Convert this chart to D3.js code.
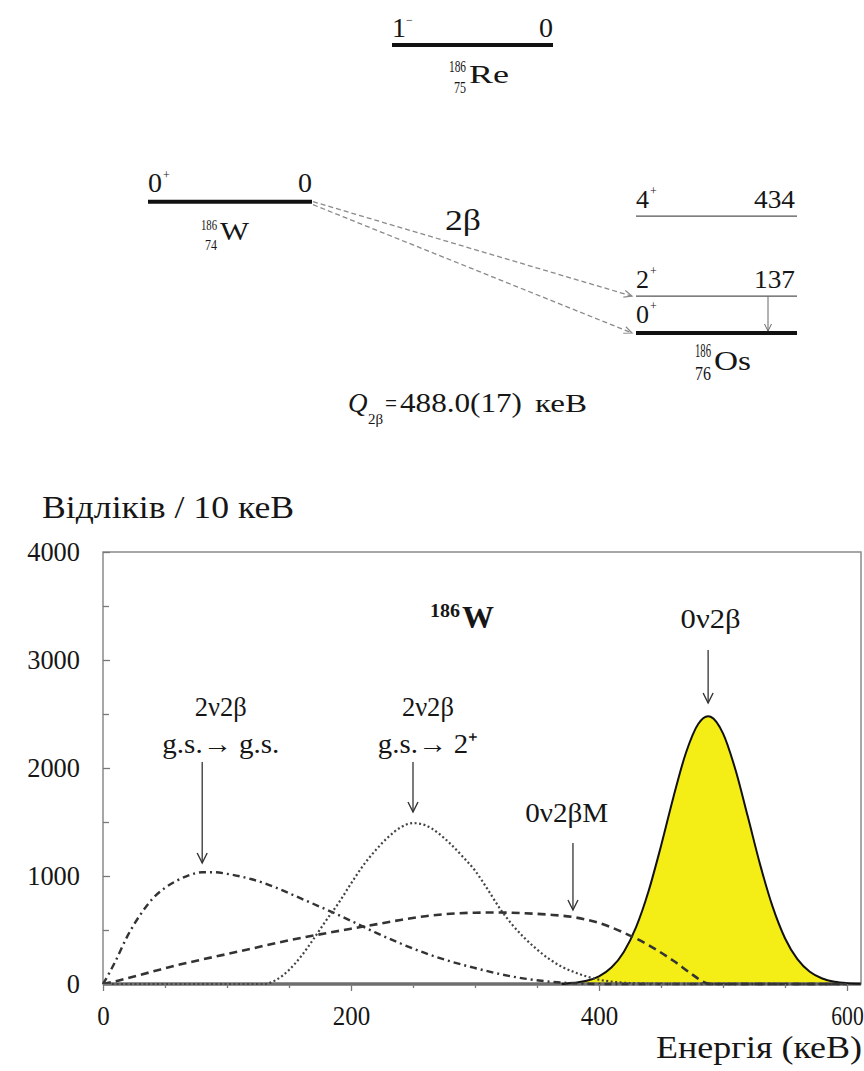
<!DOCTYPE html>
<html><head><meta charset="utf-8">
<script src="https://cdn.jsdelivr.net/npm/d3@7"></script>
<style>
body{margin:0;background:#fff}
text{font-family:"Liberation Serif","Times New Roman",serif;fill:#161616}
</style>
</head><body>
<svg id="c" width="864" height="1071"></svg>
<script>
// ---------------- data ----------------
const xTickValues = [0, 200, 400, 600];
const yTickValues = [0, 1000, 2000, 3000, 4000];
const xMinorTicks = [50, 100, 150, 250, 300, 350, 450, 500, 550];
const yMinorTicks = [500, 1500, 2500, 3500];

// 2v2b g.s. -> g.s. (dash-dot)
const gsgsEnergy = [0, 5, 10, 20, 30, 40, 50, 60, 70, 80, 90, 100, 120, 140, 160, 180, 200, 220, 240, 260, 280, 300, 320, 340, 360, 380, 400, 600];
const gsgsCounts = [0, 100, 210, 450, 640, 790, 890, 960, 1010, 1035, 1035, 1020, 970, 890, 790, 690, 585, 475, 375, 285, 210, 148, 92, 50, 22, 7, 0, 0];

// 2v2b g.s. -> 2+ (dotted)
const gs2Energy = [0, 130, 140, 150, 160, 170, 180, 190, 200, 210, 220, 230, 240, 250, 260, 270, 280, 290, 300, 310, 320, 330, 340, 350, 360, 370, 380, 390, 400, 410, 420, 440, 460, 600];
const gs2Counts = [0, 0, 40, 130, 260, 420, 590, 750, 930, 1100, 1240, 1360, 1450, 1490, 1470, 1400, 1300, 1180, 1050, 880, 700, 550, 425, 320, 230, 160, 110, 70, 40, 22, 12, 4, 1, 0];

// 0v2bM (dashed)
const majEnergy = [0, 10, 20, 40, 60, 80, 100, 120, 140, 160, 180, 200, 220, 240, 260, 280, 300, 320, 340, 360, 380, 400, 420, 440, 460, 475, 485, 490, 600];
const majCounts = [0, 25, 55, 115, 175, 227, 277, 328, 380, 428, 470, 512, 552, 593, 628, 650, 660, 662, 655, 642, 618, 565, 475, 360, 215, 90, 15, 0, 0];

// 0v2b peak (yellow)
const peakEnergy = [370, 380, 390, 400, 410, 420, 430, 440, 450, 460, 470, 480, 488, 490, 500, 510, 520, 530, 540, 550, 560, 570, 580, 590, 600, 611];
const peakCounts = [0, 12, 30, 71, 152, 297, 529, 861, 1278, 1730, 2137, 2408, 2480, 2475, 2321, 1986, 1550, 1103, 716, 424, 230, 113, 51, 21, 8, 3];

// annotations in the spectrum
const annLabels = [["2ν2β", "g.s.→ g.s."], ["2ν2β", "g.s.→ 2⁺"], ["0ν2βM"], ["0ν2β"]];
const annArrowX = [80, 250, 379, 488];
const annArrowFrom = [2055, 2055, 1305, 3093];
const annArrowTo = [1120, 1593, 685, 2602];

// level scheme
const nuclideMass = [186, 186, 186];
const nuclideZ = [75, 74, 76];
const nuclideSym = ["Re", "W", "Os"];
const nuclideOffset = [1070, 488, 0];      // keV above 186Os g.s.
const osLevelSpin = ["0", "2", "4"];
const osLevelEnergy = [0, 137, 434];
const qValueText = "488.0(17)";

// ---------------- drawing ----------------
const svg = d3.select("#c");
const F = "Liberation Serif";

function txt(g, x, y, s, size, o = {}) {
  const t = g.append("text").attr("x", x).attr("y", y).text(s)
    .style("font-size", size + "px");
  if (o.anchor) t.attr("text-anchor", o.anchor);
  if (o.len) t.attr("textLength", o.len).attr("lengthAdjust", "spacingAndGlyphs");
  if (o.bold) t.style("font-weight", "bold");
  if (o.italic) t.style("font-style", "italic");
  return t;
}
function arrowHead(g, xx, yy, ang, w, h, col, sw) {
  const p1 = [xx - h * Math.cos(ang) + w * Math.sin(ang), yy - h * Math.sin(ang) - w * Math.cos(ang)];
  const p2 = [xx - h * Math.cos(ang) - w * Math.sin(ang), yy - h * Math.sin(ang) + w * Math.cos(ang)];
  g.append("path").attr("d", `M${p1[0]},${p1[1]}L${xx},${yy}L${p2[0]},${p2[1]}`)
    .attr("fill", "none").attr("stroke", col).attr("stroke-width", sw);
}
// nuclide label: mass (upper) and Z (lower) right-aligned before the symbol
function nuclide(g, sx, sy, i, symSize, symLen, massSize, massDy, zDy, massLen, zLen) {
  txt(g, sx - 1, sy + massDy, String(nuclideMass[i]), massSize, {anchor: "end", len: massLen});
  txt(g, sx - 1, sy + zDy, String(nuclideZ[i]), massSize, {anchor: "end", len: zLen});
  txt(g, sx + 2, sy, nuclideSym[i], symSize, {len: symLen});
}

// ===== level scheme =====
const ly = d3.scaleLinear().domain([0, 1070]).range([333, 45]);
const topG = svg.append("g");

// Re
const reX = [392, 553];
topG.append("line").attr("x1", reX[0]).attr("x2", reX[1]).attr("y1", ly(nuclideOffset[0])).attr("y2", ly(nuclideOffset[0]))
  .attr("stroke", "#111").attr("stroke-width", 4);
txt(topG, 392, 37, "1", 28);
txt(topG, 406, 24, "−", 12);
txt(topG, 553, 37, "0", 28, {anchor: "end"});
nuclide(topG, 467, 83, 0, 25, 40, 16, -11, 10, 17, 12);

// W
const wX = [148, 312];
topG.append("line").attr("x1", wX[0]).attr("x2", wX[1]).attr("y1", ly(nuclideOffset[1])).attr("y2", ly(nuclideOffset[1]))
  .attr("stroke", "#111").attr("stroke-width", 4);
txt(topG, 148, 192, "0", 28);
txt(topG, 163, 179, "+", 12);
txt(topG, 312, 192, "0", 28, {anchor: "end"});
nuclide(topG, 218, 240, 1, 26, 29, 15, -10, 10, 16, 12);

txt(topG, 445, 230, "2β", 29, {len: 36});

// Os
const osX = [636, 797];
osLevelEnergy.forEach((e, i) => {
  const yy = ly(e);
  topG.append("line").attr("x1", osX[0]).attr("x2", osX[1]).attr("y1", yy).attr("y2", yy)
    .attr("stroke", i === 0 ? "#111" : "#555").attr("stroke-width", i === 0 ? 4 : 1.2);
  const by = i === 0 ? yy - 10 : yy - 8;
  txt(topG, 636, by, osLevelSpin[i], 26);
  txt(topG, 650, by - 13, "+", 12);
  if (e > 0) txt(topG, 795, by, String(e), 26, {anchor: "end", len: 41});
});
nuclide(topG, 712, 370, 2, 28, 37, 18, -13, 10, 16, 16);

// 2+ -> 0+ gamma arrow
topG.append("line").attr("x1", 768).attr("x2", 768).attr("y1", ly(137)).attr("y2", ly(0) - 2)
  .attr("stroke", "#666").attr("stroke-width", 1);
arrowHead(topG, 768, ly(0) - 2, Math.PI / 2, 3.5, 7, "#666", 1);

// 2beta transitions (dashed gray)
[[ly(488), ly(137)], [ly(488) + 3, ly(0)]].forEach(([y1, y2]) => {
  const x1 = 313, x2 = 632;
  topG.append("line").attr("x1", x1).attr("x2", x2).attr("y1", y1).attr("y2", y2)
    .attr("stroke", "#8a8a8a").attr("stroke-width", 1.3).attr("stroke-dasharray", "5,3");
  arrowHead(topG, x2, y2, Math.atan2(y2 - y1, x2 - x1), 3.5, 8, "#8a8a8a", 1.2);
});

// Q value
txt(topG, 348, 412, "Q", 27, {italic: true});
txt(topG, 368, 424, "2β", 15);
txt(topG, 385, 412, "=", 26, {len: 12});
txt(topG, 400, 412, qValueText, 27, {len: 122});
txt(topG, 535, 412, "кеВ", 26, {len: 52});

// ===== spectrum =====
const x = d3.scaleLinear().domain([0, 600]).range([103, 847]);
const y = d3.scaleLinear().domain([0, 4000]).range([984, 552]);
const xEnd = 611.3;
const g = svg.append("g");

txt(g, 42, 518, "Відліків / 10 кеВ", 32, {len: 252});

// frame
g.append("rect").attr("x", x(0)).attr("y", y(4000)).attr("width", x(xEnd) - x(0)).attr("height", y(0) - y(4000))
  .attr("fill", "none").attr("stroke", "#8a8a8a").attr("stroke-width", 1.5);

// yellow peak
const pk = peakEnergy.map((e, i) => [e, peakCounts[i]]);
g.append("path").datum(pk)
  .attr("d", d3.area().x(d => x(d[0])).y0(y(0)).y1(d => y(d[1])).curve(d3.curveMonotoneX))
  .attr("fill", "#f5ee16");

// baseline
g.append("line").attr("x1", x(0)).attr("x2", x(xEnd)).attr("y1", y(0)).attr("y2", y(0))
  .attr("stroke", "#6e6e6e").attr("stroke-width", 3.5);

g.append("path").datum(pk)
  .attr("d", d3.line().x(d => x(d[0])).y(d => y(d[1])).curve(d3.curveMonotoneX))
  .attr("fill", "none").attr("stroke", "#111").attr("stroke-width", 2);

const lineGen = d3.line().x(d => x(d[0])).y(d => y(d[1])).curve(d3.curveMonotoneX);
g.append("path").datum(gsgsEnergy.map((e, i) => [e, gsgsCounts[i]]))
  .attr("d", lineGen).attr("fill", "none").attr("stroke", "#333").attr("stroke-width", 2.4)
  .attr("stroke-dasharray", "7,4,2,4");
g.append("path").datum(gs2Energy.map((e, i) => [e, gs2Counts[i]]))
  .attr("d", lineGen).attr("fill", "none").attr("stroke", "#444").attr("stroke-width", 2.2)
  .attr("stroke-dasharray", "2,2.5");
g.append("path").datum(majEnergy.map((e, i) => [e, majCounts[i]]))
  .attr("d", lineGen).attr("fill", "none").attr("stroke", "#333").attr("stroke-width", 2.6)
  .attr("stroke-dasharray", "8,5");

// axes
const fmt = d3.format("d");
const yAx = g.append("g").attr("transform", `translate(${x(0)},0)`)
  .call(d3.axisLeft(y).tickValues(yTickValues).tickFormat(fmt).tickSize(-7).tickPadding(23));
yAx.select(".domain").remove();
yAx.selectAll("text").style("font-family", F).style("font-size", "28px").attr("fill", "#161616")
  .attr("textLength", d => String(d).length * 13.2).attr("lengthAdjust", "spacingAndGlyphs");
yAx.selectAll("line").attr("stroke", "#777").attr("stroke-width", 1.3);
const yMin = g.append("g").attr("transform", `translate(${x(0)},0)`)
  .call(d3.axisLeft(y).tickValues(yMinorTicks).tickSize(-6).tickFormat(""));
yMin.select(".domain").remove();
yMin.selectAll("line").attr("stroke", "#777").attr("stroke-width", 1.3);

const xAx = g.append("g").attr("transform", `translate(0,${y(0)})`)
  .call(d3.axisBottom(x).tickValues(xTickValues).tickFormat(fmt).tickSize(7).tickPadding(14));
xAx.select(".domain").remove();
xAx.selectAll("text").style("font-family", F).style("font-size", "28px").attr("fill", "#161616")
  .attr("textLength", d => String(d).length * (d === 600 ? 10.8 : 12.5)).attr("lengthAdjust", "spacingAndGlyphs");
xAx.selectAll("line").attr("stroke", "#777").attr("stroke-width", 1.3);
const xMin = g.append("g").attr("transform", `translate(0,${y(0)})`)
  .call(d3.axisBottom(x).tickValues(xMinorTicks).tickSize(4).tickFormat(""));
xMin.select(".domain").remove();
xMin.selectAll("line").attr("stroke", "#777").attr("stroke-width", 1.3);

txt(g, 862, 1058, "Енергія (кеВ)", 32, {anchor: "end", len: 206});

// 186W
txt(g, 430, 617, String(nuclideMass[1]), 19, {bold: true, len: 30});
txt(g, 462, 628, nuclideSym[1], 32, {bold: true});

// annotations
const labelPos = [[95, [2480, 2140]], [262, [2480, 2140]], [374, [1500]], [490, [3300]]];
const labelLen = [[52, 117], [52, 100], [83], [60]];
annLabels.forEach((lines, i) => {
  lines.forEach((s, j) => {
    txt(g, x(labelPos[i][0]), y(labelPos[i][1][j]), s, j === 0 ? 28 : 27,
      {anchor: "middle", len: labelLen[i][j]});
  });
  const ax = x(annArrowX[i]);
  g.append("line").attr("x1", ax).attr("x2", ax).attr("y1", y(annArrowFrom[i])).attr("y2", y(annArrowTo[i]))
    .attr("stroke", "#333").attr("stroke-width", 1.3);
  arrowHead(g, ax, y(annArrowTo[i]), Math.PI / 2, 5, 10, "#333", 1.4);
});
</script>
</body></html>
